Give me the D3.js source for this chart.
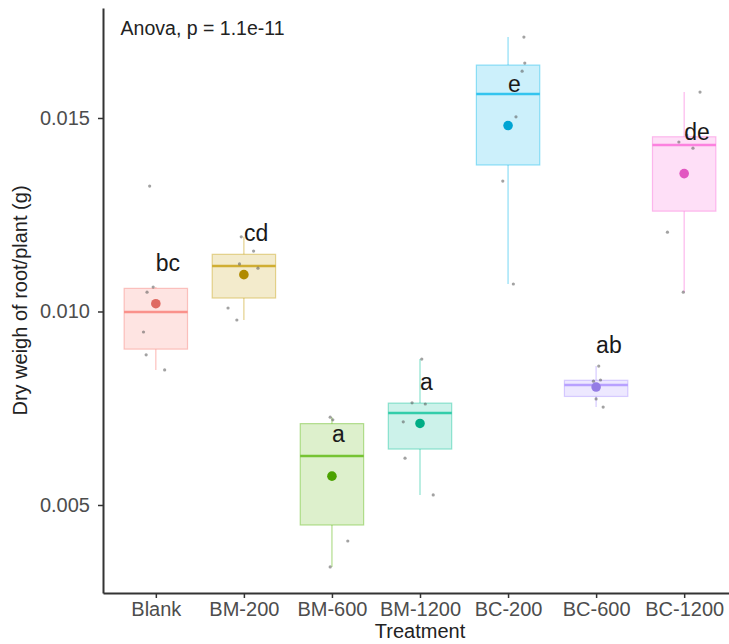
<!DOCTYPE html>
<html><head><meta charset="utf-8">
<script src="https://cdn.jsdelivr.net/npm/d3@7"></script>
<style>
body{margin:0;background:#fff}
svg{display:block}
text{font-family:"Liberation Sans",Arial,Helvetica,sans-serif}
</style>
</head><body>
<svg id="chart" width="729" height="644"></svg>
<script>
// ---- data ----
const categories = ["Blank","BM-200","BM-600","BM-1200","BC-200","BC-600","BC-1200"];
const colors = ["#F8766D","#C49A00","#53B400","#00C094","#00B6EB","#A58AFF","#FB61D7"];
const blank  = [0.01324,0.01063,0.01050,0.00947,0.00888,0.00849];
const bm200  = [0.01193,0.01156,0.01123,0.01112,0.01009,0.00978];
const bm600  = [0.00727,0.00720,0.00681,0.00572,0.00407,0.00340];
const bm1200 = [0.00877,0.00764,0.00761,0.00715,0.00621,0.00526];
const bc200  = [0.01709,0.01642,0.01621,0.01503,0.01337,0.01071];
const bc600  = [0.00859,0.00823,0.00820,0.00800,0.00774,0.00753];
const bc1200 = [0.01567,0.01456,0.01438,0.01422,0.01205,0.01050];
const rootWeight = [blank,bm200,bm600,bm1200,bc200,bc600,bc1200];
// jitter offsets of the points, in category units
const jitter = [
  [-0.07,-0.03,-0.10,-0.14,-0.11,0.10],
  [-0.03,0.11,-0.05,0.16,-0.18,-0.08],
  [-0.02,0.01,0.09,0.00,0.18,-0.02],
  [0.02,-0.09,0.06,-0.19,-0.17,0.15],
  [0.18,0.19,0.16,0.09,-0.06,0.06],
  [0.03,0.05,-0.03,0.00,0.00,0.08],
  [0.18,0.03,-0.06,0.10,-0.19,-0.01]
];
const letters = ["bc","cd","a","a","e","ab","de"];
const letterY = [0.01105,0.01182,0.00663,0.00797,0.01567,0.00893,0.01443];
const yTicks = [0.005,0.010,0.015];
const yDomain = [0.002726,0.017842];
const anovaLabel = "Anova, p = 1.1e-11";
const xTitle = "Treatment";
const yTitle = "Dry weigh of root/plant (g)";

// ---- layout ----
const M = {left:103, right:737, top:8, bottom:593};
const svg = d3.select("#chart");

const x = d3.scalePoint().domain(categories).range([M.left, M.right]).padding(0.6);
const y = d3.scaleLinear().domain(yDomain).range([M.bottom, M.top]);
const step = x.step();
const boxW = 0.72 * step;

// box statistics (R type-7 quantiles, 1.5 IQR whiskers)
const stats = rootWeight.map((vals, i) => {
  const s = vals.slice().sort(d3.ascending);
  const q1 = d3.quantile(s, 0.25), med = d3.quantile(s, 0.5), q3 = d3.quantile(s, 0.75);
  const iqr = q3 - q1;
  const lo = d3.min(s.filter(v => v >= q1 - 1.5*iqr));
  const hi = d3.max(s.filter(v => v <= q3 + 1.5*iqr));
  return {cat: categories[i], color: colors[i], q1, med, q3, lo, hi, mean: d3.mean(s)};
});

const g = svg.append("g");

g.selectAll(".box").data(stats).join("g").each(function(d){
  const cx = x(d.cat);
  const sel = d3.select(this);
  sel.append("line").attr("x1",cx).attr("x2",cx).attr("y1",y(d.q3)).attr("y2",y(d.hi))
    .attr("stroke",d.color).attr("stroke-opacity",0.45).attr("stroke-width",1.2);
  sel.append("line").attr("x1",cx).attr("x2",cx).attr("y1",y(d.q1)).attr("y2",y(d.lo))
    .attr("stroke",d.color).attr("stroke-opacity",0.45).attr("stroke-width",1.2);
  sel.append("rect").attr("x",cx-boxW/2).attr("width",boxW)
    .attr("y",y(d.q3)).attr("height",y(d.q1)-y(d.q3))
    .attr("fill",d.color).attr("fill-opacity",0.2)
    .attr("stroke",d.color).attr("stroke-opacity",0.4).attr("stroke-width",1.2);
  sel.append("line").attr("x1",cx-boxW/2).attr("x2",cx+boxW/2).attr("y1",y(d.med)).attr("y2",y(d.med))
    .attr("stroke",d.color).attr("stroke-opacity",0.75).attr("stroke-width",2.5);
});

// jitter points
rootWeight.forEach((vals, i) => {
  g.selectAll(null).data(vals).join("circle")
    .attr("cx",(v,j) => x(categories[i]) + jitter[i][j]*step)
    .attr("cy",v => y(v)).attr("r",1.6)
    .attr("fill","#555").attr("fill-opacity",0.55);
});

// means
g.selectAll(".mean").data(stats).join("circle")
  .attr("cx",d => x(d.cat)).attr("cy",d => y(d.mean)).attr("r",4.8)
  .attr("fill",d => d3.color(d.color).darker(0.3));

// group letters
g.selectAll(".lt").data(letters).join("text")
  .attr("x",(d,i) => x(categories[i])).attr("y",(d,i) => y(letterY[i]))
  .attr("text-anchor","start").attr("font-size",23).attr("fill","#1a1a1a").text(d => d);

// axes
const yAxis = d3.axisLeft(y).tickValues(yTicks).tickFormat(d3.format(".3f")).tickSize(5).tickSizeOuter(0).tickPadding(8);
const xAxis = d3.axisBottom(x).tickSize(5).tickSizeOuter(0).tickPadding(4);
const ya = svg.append("g").attr("transform",`translate(${M.left},0)`).call(yAxis);
const xa = svg.append("g").attr("transform",`translate(0,${M.bottom})`).call(xAxis);
[ya, xa].forEach(a => {
  a.select(".domain").attr("stroke","#333").attr("stroke-width",2);
  a.selectAll(".tick line").attr("stroke","#333").attr("stroke-width",1.5);
  a.selectAll(".tick text").attr("fill","#4d4d4d").attr("font-size",20)
    .attr("font-family","'Liberation Sans',Arial,sans-serif");
});

// anova label
svg.append("text").attr("x", x(categories[0]) - 0.4*step)
  .attr("y", y(d3.max(rootWeight.flat())) - 2)
  .attr("font-size",19.5).attr("fill","#222").text(anovaLabel);

// axis titles
svg.append("text").attr("x",(M.left+M.right)/2).attr("y",638)
  .attr("text-anchor","middle").attr("font-size",20).attr("fill","#222").text(xTitle);
svg.append("text").attr("transform",`translate(27,${(M.top+M.bottom)/2}) rotate(-90)`)
  .attr("text-anchor","middle").attr("font-size",20).attr("fill","#222").text(yTitle);
</script>
</body></html>
